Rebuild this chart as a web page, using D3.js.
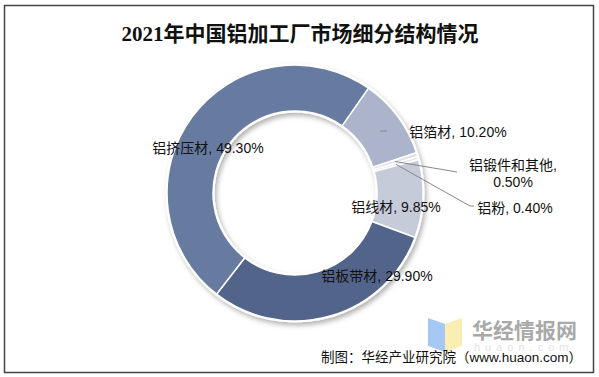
<!DOCTYPE html>
<html>
<head>
<meta charset="utf-8">
<script src="https://cdn.jsdelivr.net/npm/d3@7"></script>
<style>
  body { margin: 0; background: #fff; }
  text { font-family: "Liberation Sans", "Noto Sans CJK SC", sans-serif; }
</style>
</head>
<body>
<svg id="chart" width="599" height="377"></svg>
<script>
// data
var categories = ["铝箔材", "铝锻件和其他", "铝粉", "铝线材", "铝板带材", "铝挤压材"];
var values = [10.20, 0.50, 0.40, 9.85, 29.90, 49.30];
var colors = ["#abb4ca", "#dde0e9", "#e6e8ef", "#c6cbda", "#53648a", "#677ba1"];

// where each label sits (x centre, y centre)
var labelPos = {
  "铝箔材": [458, 132],
  "铝锻件和其他": [513, 165],
  "铝粉": [515, 208],
  "铝线材": [396, 207],
  "铝板带材": [377, 276],
  "铝挤压材": [208, 148]
};

var svg = d3.select("#chart");
var cx = 295, cy = 193, outerR = 128, innerR = 82;

// frame
svg.append("rect")
  .attr("x", 4.5).attr("y", 5.5)
  .attr("width", 589).attr("height", 367)
  .attr("fill", "#fff")
  .attr("stroke", "#444")
  .attr("stroke-width", 1.5);

// title
svg.append("text")
  .attr("x", 300).attr("y", 41)
  .attr("text-anchor", "middle")
  .style("font-family", "'Liberation Serif', 'Noto Sans CJK SC', serif")
  .style("font-size", "21px")
  .style("font-weight", "bold")
  .style("fill", "#111")
  .text("2021年中国铝加工厂市场细分结构情况");

var defs = svg.append("defs");
var f = defs.append("filter").attr("id", "shadow")
  .attr("x", "-20%").attr("y", "-20%").attr("width", "140%").attr("height", "140%");
f.append("feDropShadow")
  .attr("dx", 2).attr("dy", 3).attr("stdDeviation", 2.5)
  .attr("flood-color", "#000").attr("flood-opacity", 0.3);

var data = categories.map(function(c, i) {
  return { name: c, value: values[i], color: colors[i] };
});

var pie = d3.pie()
  .sort(null)
  .value(function(d) { return d.value; })
  .startAngle(35 * Math.PI / 180)
  .endAngle(35 * Math.PI / 180 + 2 * Math.PI);

var arc = d3.arc().innerRadius(innerR).outerRadius(outerR);

var g = svg.append("g").attr("transform", "translate(" + cx + "," + cy + ")");

// white ring with shadow behind slices
g.append("path")
  .attr("d", d3.arc().innerRadius(innerR - 1.5).outerRadius(outerR + 1.5)({startAngle: 0, endAngle: 2 * Math.PI}))
  .attr("fill", "#fff")
  .attr("filter", "url(#shadow)");

var arcs = pie(data);

g.selectAll(".slice")
  .data(arcs)
  .enter().append("path")
  .attr("class", "slice")
  .attr("d", arc)
  .attr("fill", function(d) { return d.data.color; })
  .attr("stroke", "#fff")
  .attr("stroke-width", 1.5);

// leader lines for the small slices
var leaderEnd = {
  "铝箔材": [[380, 131], [387, 131]],
  "铝锻件和其他": [[457, 172]],
  "铝粉": [[470, 206], [474, 206]]
};
arcs.forEach(function(d) {
  var ends = leaderEnd[d.data.name];
  if (!ends) return;
  var c = arc.centroid(d);
  var pts;
  if (d.data.name == "铝箔材") {
    pts = ends;
  } else {
    pts = [[c[0] + cx, c[1] + cy]].concat(ends);
  }
  svg.append("path")
    .attr("d", d3.line()(pts))
    .attr("fill", "none")
    .attr("stroke", "#888")
    .attr("stroke-width", 1);
});

// labels
arcs.forEach(function(d) {
  var p = labelPos[d.data.name];
  var txt = d.data.name + ", " + d.data.value.toFixed(2) + "%";
  var t = svg.append("text")
    .attr("text-anchor", "middle")
    .style("font-size", "14px")
    .style("fill", "#111");
  if (d.data.name == "铝锻件和其他") {
    t.append("tspan").attr("x", p[0]).attr("y", p[1] + 5).text(d.data.name + ",");
    t.append("tspan").attr("x", p[0]).attr("y", p[1] + 22).text(d.data.value.toFixed(2) + "%");
  } else {
    t.attr("x", p[0]).attr("y", p[1] + 5).text(txt);
  }
});

// watermark
var wm = svg.append("g");
wm.append("path")
  .attr("d", "M428,318 L445,324 L445,352 L428,346 Z")
  .attr("fill", "#a7c8f4");
wm.append("path")
  .attr("d", "M445,324 L462,318 L462,346 L445,352 Z")
  .attr("fill", "#fbeeb2");
wm.append("text")
  .attr("x", 472).attr("y", 338)
  .style("font-family", "'Noto Sans CJK SC', sans-serif")
  .style("font-size", "21px")
  .style("font-weight", "bold")
  .style("fill", "#a9a9a9")
  .text("华经情报网");
wm.append("text")
  .attr("x", 474).attr("y", 351)
  .style("font-size", "11px")
  .style("letter-spacing", "5px")
  .style("fill", "#e2e2e2")
  .text("huaon.com");

// source
svg.append("text")
  .attr("x", 582).attr("y", 362)
  .attr("text-anchor", "end")
  .style("font-size", "13.5px")
  .style("fill", "#111")
  .text("制图：华经产业研究院（www.huaon.com）");
</script>
</body>
</html>
